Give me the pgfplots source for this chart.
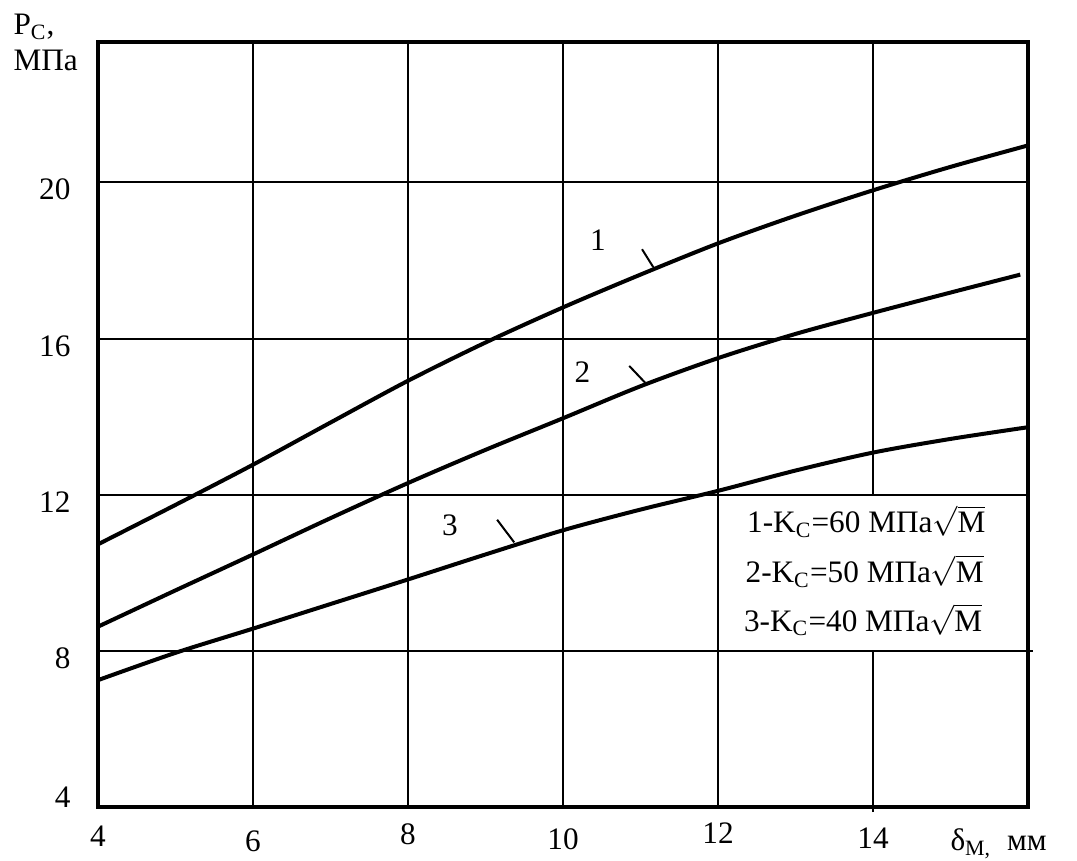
\documentclass[border=0pt]{standalone}
\usepackage{fontspec}
\setmainfont{Liberation Serif}
\usepackage{pgfplots}
\pgfplotsset{compat=1.18}
\begin{document}
\begin{tikzpicture}
\begin{axis}[
  at={(0pt,0pt)}, anchor=south west,
  scale only axis, width=372pt, height=306pt,
  xmin=4, xmax=16, ymin=4, ymax=23.6,
  axis line style={line width=1.6pt},
  xtick={4,6,8,10,12,14},
  xticklabels={4,\raisebox{-2pt}{6},\raisebox{0.8pt}{8},\raisebox{-1.2pt}{10},\raisebox{1.2pt}{12},\raisebox{-0.8pt}{14}},
  ytick={8,12,16,20},
  yticklabels={8,12,16,20},
  extra y ticks={4},
  extra y tick labels={\raisebox{6.8pt}{4}},
  major tick length=0pt,
  tick label style={font=\fontsize{12.5}{14}\selectfont, inner sep=0pt},
  xticklabel style={anchor=base, yshift=-16pt},
  yticklabel style={anchor=base east, xshift=-10.8pt, yshift=-7pt},
  clip=false,
]
% grid
\draw[line width=0.8pt] (axis cs:4,8) -- (axis cs:16.06,8);
\draw[line width=0.8pt] (axis cs:4,12) -- (axis cs:16,12);
\draw[line width=0.8pt] (axis cs:4,16) -- (axis cs:16,16);
\draw[line width=0.8pt] (axis cs:4,20) -- (axis cs:16,20);
\draw[line width=0.8pt] (axis cs:6,4) -- (axis cs:6,23.6);
\draw[line width=0.8pt] (axis cs:8,4) -- (axis cs:8,23.6);
\draw[line width=0.8pt] (axis cs:10,4) -- (axis cs:10,23.6);
\draw[line width=0.8pt] (axis cs:12,4) -- (axis cs:12,23.6);
\draw[line width=0.8pt] (axis cs:14,12) -- (axis cs:14,23.6);
\draw[line width=0.8pt] (axis cs:14,3.87) -- (axis cs:14,8);
% curves
\addplot[black, line width=1.6pt, smooth] coordinates {
(4,10.73)(5,11.74)(6,12.77)(7,13.85)(8,14.92)(9,15.9)(10,16.8)(11,17.64)(12,18.44)(13,19.15)(14,19.8)(15,20.4)(16,20.95)};
\addplot[black, line width=1.6pt, smooth] coordinates {
(4,8.62)(5,9.55)(6,10.47)(7,11.4)(8,12.3)(9,13.15)(10,13.96)(11,14.78)(12,15.5)(13,16.12)(14,16.66)(15,17.18)(15.9,17.64)};
\addplot[black, line width=1.6pt, smooth] coordinates {
(4,7.25)(5,7.95)(6,8.57)(7,9.2)(8,9.83)(9,10.47)(10,11.09)(11,11.62)(12,12.1)(13,12.62)(14,13.08)(15,13.43)(16,13.73)};
% curve labels
\draw[line width=0.8pt] (axis cs:11.02,18.29) -- (axis cs:11.165,17.83);
\draw[line width=0.8pt] (axis cs:10.855,15.30) -- (axis cs:11.06,14.87);
\draw[line width=0.8pt] (axis cs:9.15,11.36) -- (axis cs:9.37,10.78);
\node[font=\fontsize{12.5}{14}\selectfont] at (axis cs:10.45,18.53) {1};
\node[font=\fontsize{12.5}{14}\selectfont] at (axis cs:10.25,15.15) {2};
\node[font=\fontsize{12.5}{14}\selectfont] at (axis cs:8.54,11.22) {3};
% legend text
\node[anchor=base west, inner sep=0pt, font=\fontsize{12.5}{15}\selectfont] at (axis cs:12.37,11.02) {1-K\textsubscript{C}=60 МПа$\sqrt{\mbox{М}}$};
\node[anchor=base west, inner sep=0pt, font=\fontsize{12.5}{15}\selectfont] at (axis cs:12.35,9.75) {2-K\textsubscript{C}=50 МПа$\sqrt{\mbox{М}}$};
\node[anchor=base west, inner sep=0pt, font=\fontsize{12.5}{15}\selectfont] at (axis cs:12.33,8.5) {3-K\textsubscript{C}=40 МПа$\sqrt{\mbox{М}}$};
\end{axis}
% axis labels
\node[anchor=base west, inner sep=0pt, font=\fontsize{12.5}{14}\selectfont] at (-34pt,308.8pt) {P\textsubscript{C},};
\node[anchor=base west, inner sep=0pt, font=\fontsize{12.5}{14}\selectfont] at (-34pt,294.5pt) {МПа};
\node[anchor=base west, inner sep=0pt, font=\fontsize{12.5}{14}\selectfont] at (340.8pt,-17.6pt) {δ\textsubscript{M,}\ \ мм};
\pgfresetboundingbox
\path (-39.2pt,-21.6pt) rectangle (391.6pt,322.8pt);
\end{tikzpicture}
\end{document}
